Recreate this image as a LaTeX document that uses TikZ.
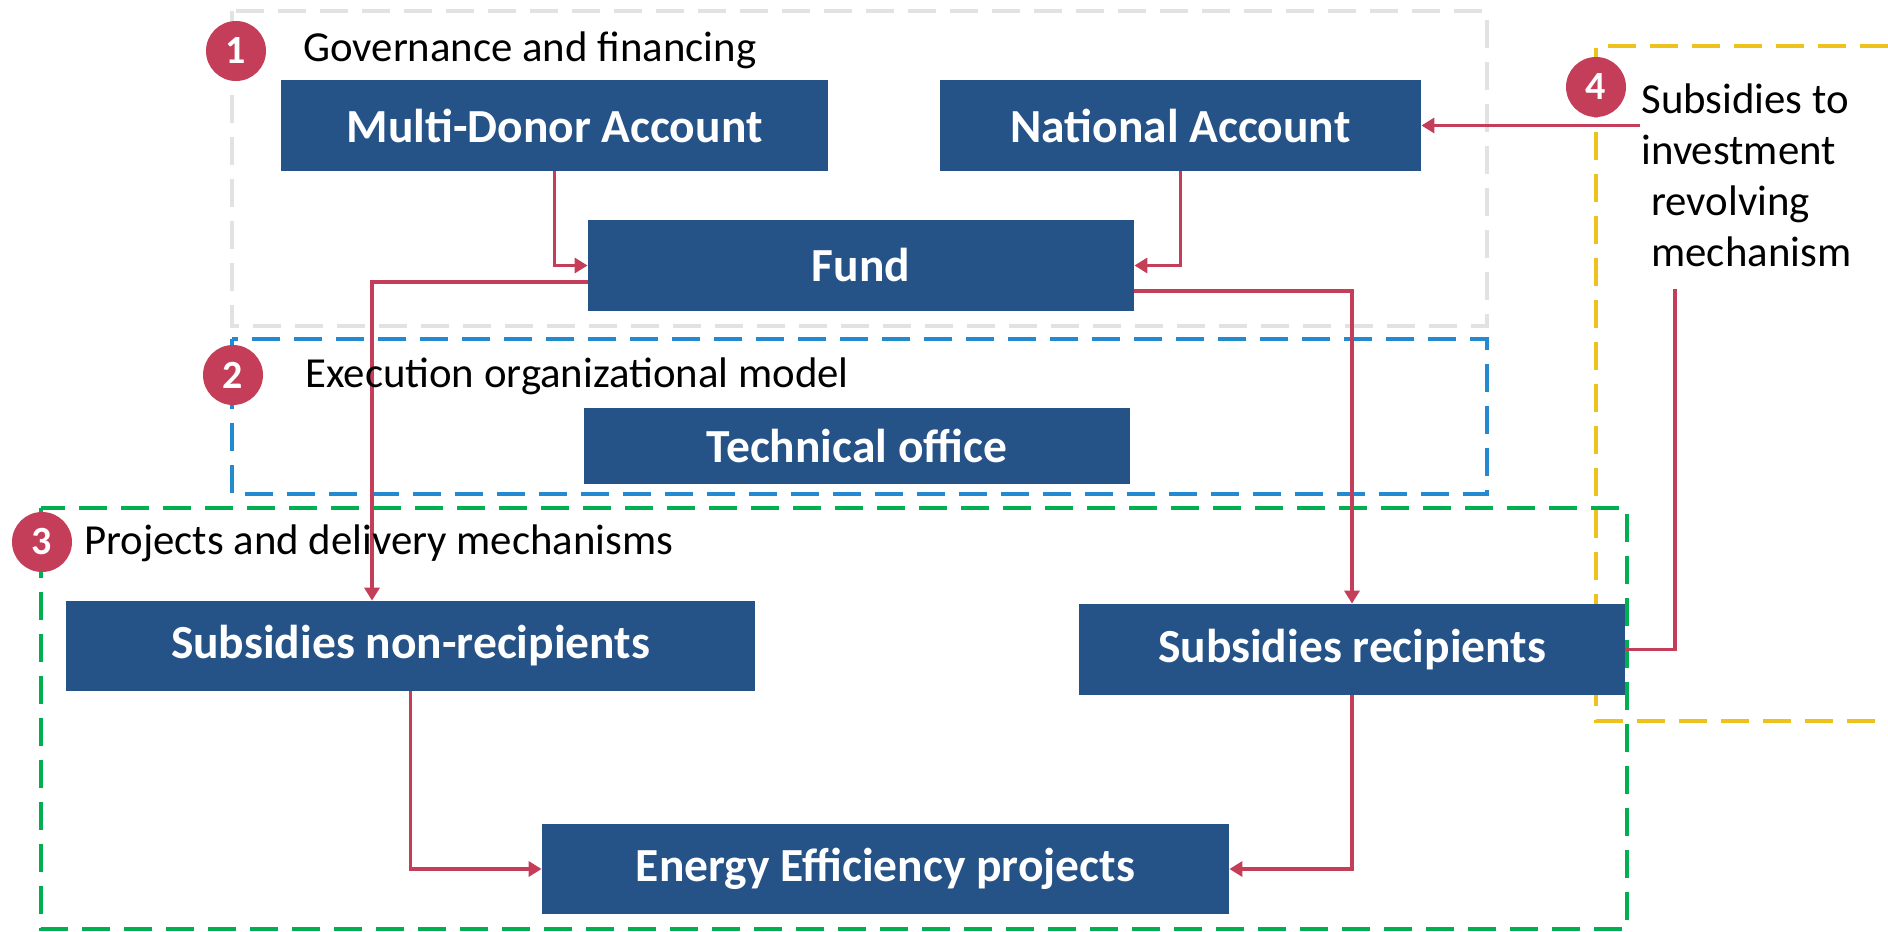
\documentclass[tikz,border=0pt]{standalone}
\usepackage{fontspec}
\setmainfont{Carlito}
\usetikzlibrary{arrows.meta}
\definecolor{boxblue}{RGB}{38,83,135}
\definecolor{flowred}{RGB}{197,62,89}
\definecolor{grpgray}{RGB}{226,226,226}
\definecolor{grpblue}{RGB}{35,137,208}
\definecolor{grpgreen}{RGB}{0,176,80}
\definecolor{grpyellow}{RGB}{238,194,28}

\begin{document}
\begin{tikzpicture}[x=0.5pt,y=-0.5pt,
    group/.style={line width=2pt, dash pattern=on 14pt off 7pt},
    box/.style={fill=boxblue, text=white, inner sep=0pt,
        font=\fontsize{23.75}{28}\selectfont\bfseries},
    flow/.style={flowred, line width=1.75pt, -{Triangle[length=6.5pt,width=7.5pt]}},
    link/.style={flowred, line width=1.75pt},
    num/.style={circle, fill=flowred, text=white, minimum size=30pt, inner sep=0pt,
        font=\fontsize{20}{24}\selectfont\bfseries},
    heading/.style={anchor=base west, inner sep=0pt, font=\fontsize{21.4}{25.5}\selectfont}]
    \useasboundingbox (0,0) rectangle (1888,931);
    % groups
    \draw[group, grpgray] (232,11) rectangle (1487,326);
    \draw[group, grpblue] (232,339) rectangle (1487,494);
    \draw[group, grpyellow] (1888,46) -- (1596,46) -- (1596,721) -- (1888,721);
    % boxes
    \node[box, minimum width=273.5pt, minimum height=45.5pt] (mda) at (554.5,125.5) {Multi-Donor Account};
    \node[box, minimum width=240.5pt, minimum height=45.5pt] (nat) at (1180.5,125.5) {National Account};
    \node[box, minimum width=273pt, minimum height=45.5pt] (fund) at (861,265.5) {Fund};
    \node[box, minimum width=273pt, minimum height=38pt] (tech) at (857,446) {Technical office};
    \node[box, minimum width=344.5pt, minimum height=45pt] (snr) at (410.5,646) {Subsidies non-recipients};
    \node[box, minimum width=273pt, minimum height=45.5pt] (sr) at (1352,649.5) {Subsidies recipients};
    \node[box, minimum width=343.5pt, minimum height=45pt] (ee) at (885.5,869) {Energy Efficiency projects};
    \draw[group, grpgreen] (41,508) rectangle (1627,929);
    % revolving mechanism text
    \node[anchor=north west, inner sep=0pt, align=left,
        font=\fontsize{21.4}{25.5}\selectfont] (revolv) at (1641,83)
        {Subsidies to\\investment\\\hspace*{5pt}revolving\\\hspace*{5pt}mechanism};
    \coordinate (revtip) at (1640,125.5);
    \coordinate (revfoot) at (1675,289);
    % connectors
    \draw[flow] (mda.south) |- (fund.west);
    \draw[flow] (nat.south) |- (fund.east);
    \draw[flow] ([yshift=-8.25pt]fund.west) -| ([xshift=-19.25pt]snr.north);
    \draw[flow] ([yshift=-12.75pt]fund.east) -| (sr.north);
    \draw[flow] (snr.south) |- (ee.west);
    \draw[flow] (sr.south) |- (ee.east);
    \draw[flow] (revtip) -- (nat.east);
    \draw[link] (sr.east) -| (revfoot);
    % numbers and headings
    \node[num] (n1) at (236,51) {1};
    \node[num] (n2) at (233,375) {2};
    \node[num] (n3) at (42,542) {3};
    \node[num] (n4) at (1596,87) {4};
    \node[heading] (lbl1) at (303,62) {Governance and financing};
    \node[heading] (lbl2) at (305,387) {Execution organizational model};
    \node[heading] (lbl3) at (84,554) {Projects and delivery mechanisms};
\end{tikzpicture}
\end{document}
